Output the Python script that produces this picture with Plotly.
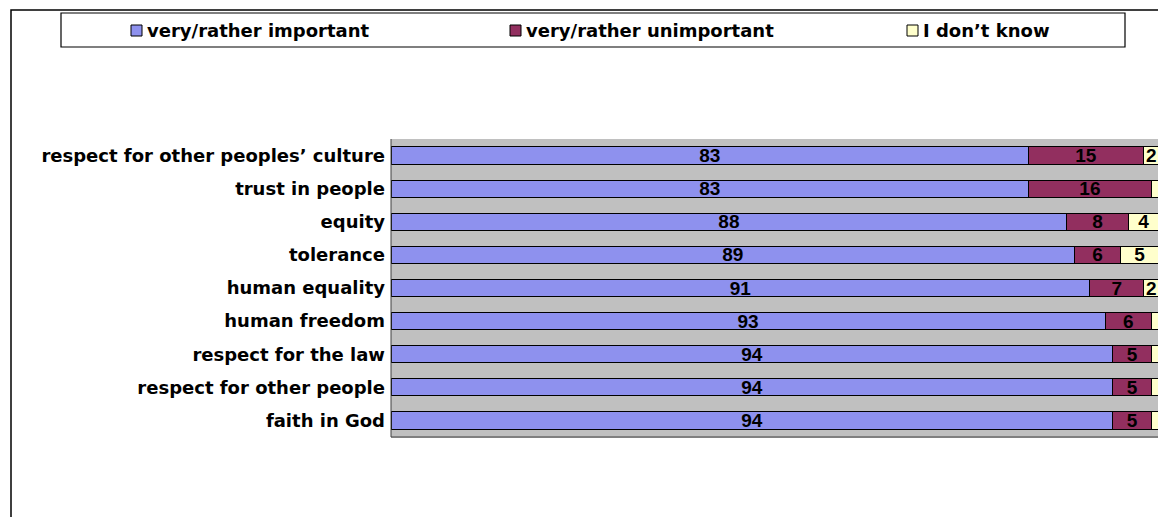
import plotly.graph_objects as go

categories = [
    "respect for other peoples’ culture",
    "trust in people",
    "equity",
    "tolerance",
    "human equality",
    "human freedom",
    "respect for the law",
    "respect for other people",
    "faith in God",
]
important = [83, 83, 88, 89, 91, 93, 94, 94, 94]
unimportant = [15, 16, 8, 6, 7, 6, 5, 5, 5]
dont_know = [2, 1, 4, 5, 2, 1, 1, 1, 1]
series_names = ["very/rather important", "very/rather unimportant", "I don’t know"]
colors = ["#8E91EE", "#922F5F", "#FFFFCC"]

OFF = 8  # page body margin
W, H = 1166 - OFF, 517 - OFF
L, R, T, B = 391 - OFF, 1159 - OFF, 139 - OFF, 437 - OFF

LABEL_FONT = dict(family="DejaVu Sans", size=18, color="black", weight="bold")
NUM_FONT = dict(family="Liberation Sans, Arial", size=19, color="black", weight="bold")

fig = go.Figure()
for name, vals, col in zip(series_names, [important, unimportant, dont_know], colors):
    fig.add_trace(go.Bar(
        y=categories, x=vals, name=name, orientation="h",
        marker=dict(color=col, line=dict(color="black", width=1)),
        text=[str(v) if v > 1 else "" for v in vals],
        textposition="inside", insidetextanchor="middle", textangle=0,
        constraintext="none",
        textfont=NUM_FONT,
        showlegend=False, cliponaxis=False,
    ))

def px_x(p):
    return (p - OFF - L) / (R - L)

def px_y(p):
    return (B - (p - OFF)) / (B - T)

shapes = [
    dict(type="rect", xref="paper", yref="paper", x0=px_x(11), x1=px_x(1200), y0=px_y(560), y1=px_y(10),
         line=dict(color="black", width=1.5), layer="below"),
    dict(type="rect", xref="paper", yref="paper", x0=px_x(61), x1=px_x(1125), y0=px_y(47), y1=px_y(13),
         line=dict(color="black", width=1.2), fillcolor="white"),
    dict(type="line", xref="paper", yref="paper", x0=1, x1=1, y0=0, y1=1, line=dict(color="#808080", width=2)),
    dict(type="line", xref="paper", yref="paper", x0=0, x1=1, y0=0, y1=0, line=dict(color="#808080", width=2)),
    dict(type="line", xref="paper", yref="paper", x0=0, x1=0, y0=0, y1=1, line=dict(color="#404040", width=1)),
]
annotations = []
leg_x = [131, 510, 907]
for lx, name, col in zip(leg_x, series_names, colors):
    shapes.append(dict(type="rect", xref="paper", yref="paper", x0=px_x(lx), x1=px_x(lx + 11),
                       y0=px_y(36), y1=px_y(25), fillcolor=col, line=dict(color="black", width=1)))
    annotations.append(dict(xref="paper", yref="paper", x=px_x(lx + 14), y=px_y(30), text=name,
                            showarrow=False, xanchor="left", yanchor="middle", font=LABEL_FONT))

fig.update_layout(
    width=W, height=H, barmode="stack", bargap=0.48,
    margin=dict(l=L, r=W - R, t=T, b=H - B, pad=0),
    paper_bgcolor="white", plot_bgcolor="#C0C0C0",
    shapes=shapes, annotations=annotations,
    xaxis=dict(range=[0, 100], showticklabels=False, showgrid=False, zeroline=False, ticks=""),
    yaxis=dict(autorange="reversed", showgrid=False, ticks="", ticklabelstandoff=5,
               tickfont=LABEL_FONT),
)
fig.write_html("out.html")
